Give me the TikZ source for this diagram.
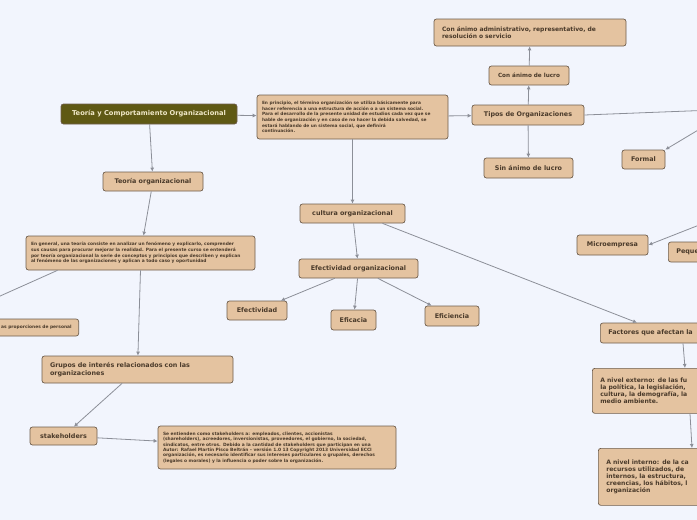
\documentclass[tikz,border=0pt]{standalone}
\usepackage{fontspec}
\setmainfont{DejaVu Sans}
\usetikzlibrary{arrows.meta,positioning}
\definecolor{paper}{HTML}{F2F5FD}
\definecolor{nodefill}{HTML}{E4C3A0}
\definecolor{nodeline}{HTML}{6E5D4C}
\definecolor{nodetext}{HTML}{4A3A2A}
\definecolor{rootfill}{HTML}{5F5914}
\definecolor{roottext}{HTML}{F0E8C8}
\definecolor{linegray}{HTML}{8C8F98}
\tikzset{
  topic/.style={draw=nodeline,fill=nodefill,rounded corners=2.5pt,line width=0.7pt,
    text=nodetext,inner sep=0pt,align=center,font=\fontsize{6.4}{7.6}\selectfont\bfseries},
  small/.style={topic,font=\fontsize{5.7}{7}\selectfont\bfseries},
  note/.style={topic,align=left,inner xsep=5pt,font=\fontsize{4.4}{5.6}\selectfont\bfseries},
  wide/.style={topic,align=left,inner xsep=8pt,font=\fontsize{6.1}{7}\selectfont\bfseries},
  conn/.style={draw=linegray,line width=0.8pt,-{Latex[length=4pt,width=4pt]}},
  plain/.style={draw=linegray,line width=0.8pt},
}
\begin{document}
\begin{tikzpicture}[x=1pt,y=-1pt]
  \fill[paper] (0,0) rectangle (697,520);
  \useasboundingbox (0,0) rectangle (697,520);
  \clip (0,0) rectangle (697,520);
  % central topic
  \node[topic,fill=rootfill,text=roottext,minimum width=176pt,minimum height=20pt,font=\fontsize{6.7}{8}\selectfont\bfseries]
    (root) at (149,114) {Teoría y Comportamiento Organizacional};
  % right branch
  \node[note,text width=181pt,minimum height=44pt,font=\fontsize{4.35}{5.6}\selectfont\bfseries] (princ) at (352.5,117)
    {En principio, el término organización se utiliza básicamente para\\
     hacer referencia a una estructura de acción o a un sistema social.\\
     Para el desarrollo de la presente unidad de estudios cada vez que se\\
     hable de organización y en caso de no hacer la debida salvedad, se\\
     estará hablando de un sistema social, que definirá\\
     continuación.};
  \node[topic,minimum width=112pt,minimum height=20pt] (tipos) at (528,115) {Tipos de Organizaciones};
  \node[small,minimum width=80pt,minimum height=19pt] (conlucro) at (529,75.5) {Con ánimo de lucro};
  \node[topic,align=left,text width=176pt,inner xsep=8pt,minimum height=27pt,font=\fontsize{6}{7.4}\selectfont\bfseries]
    (admin) at (530,32.5) {Con ánimo administrativo, representativo, de\\resolución o servicio};
  \node[topic,minimum width=89pt,minimum height=20pt] (sinlucro) at (528.5,168) {Sin ánimo de lucro};
  \node[topic,minimum width=43pt,minimum height=19pt] (formal) at (643.5,159.5) {Formal};
  \node[topic,minimum width=71pt,minimum height=20pt] (micro) at (612.5,245) {Microempresa};
  \node[topic,anchor=west,align=left,text width=60pt,inner xsep=8pt,minimum height=20pt] (peque) at (668,252) {Peque};
  \coordinate (offtipos) at (740,109);
  \coordinate (offformal) at (740,105);
  \coordinate (offmicro) at (740,209);
  % cultura
  \node[topic,minimum width=105pt,minimum height=19pt] (cultura) at (352.5,213.5) {cultura organizacional};
  \node[topic,minimum width=119pt,minimum height=19pt] (efectorg) at (358.5,268.5) {Efectividad organizacional};
  \node[topic,minimum width=60pt,minimum height=19pt] (efectividad) at (257,310.5) {Efectividad};
  \node[topic,minimum width=45pt,minimum height=20pt] (eficacia) at (353.5,320) {Eficacia};
  \node[topic,minimum width=54pt,minimum height=20pt] (eficiencia) at (452,316) {Eficiencia};
  \node[topic,anchor=west,align=left,text width=110pt,inner xsep=8pt,minimum height=20pt] (factores) at (600,333) {Factores que afectan la};
  \node[wide,anchor=north west,text width=110pt,minimum height=45pt] (externo) at (592,368)
    {A nivel externo: de las fu\\la política, la legislación,\\cultura, la demografía, la\\medio ambiente.};
  \node[wide,anchor=north west,text width=110pt,minimum height=57pt] (interno) at (598,448)
    {A nivel interno: de la ca\\recursos utilizados, de\\internos, la estructura,\\creencias, los hábitos, l\\organización};
  % left branch
  \node[topic,minimum width=100pt,minimum height=19pt] (teoriaorg) at (153,181.5) {Teoría organizacional};
  \node[note,text width=219pt,minimum height=34pt] (general) at (140.5,253)
    {En general, una teoría consiste en analizar un fenómeno y explicarlo, comprender\\
     sus causas para procurar mejorar la realidad. Para el presente curso se entenderá\\
     por teoría organizacional la serie de conceptos y principios que describen y explican\\
     al fenómeno de las organizaciones y aplican a todo caso y oportunidad};
  \coordinate (offgeneral) at (-20,305);
  \node[note,anchor=east,inner xsep=7pt,minimum height=17pt] (proporciones) at (79,327.5) {as proporciones de personal};
  \node[topic,align=left,text width=175pt,inner xsep=8pt,minimum height=27pt] (grupos) at (137.5,369.5)
    {Grupos de interés relacionados con las\\organizaciones};
  \node[topic,minimum width=67pt,minimum height=18pt] (stake) at (63.5,436) {stakeholders};
  \node[note,text width=228pt,minimum height=43pt,font=\fontsize{4.4}{5.4}\selectfont\bfseries] (sedef) at (277,447.5)
    {Se entienden como stakeholders a: empleados, clientes, accionistas\\
     (shareholders), acreedores, inversionistas, proveedores, el gobierno, la sociedad,\\
     sindicatos, entre otros. Debido a la cantidad de stakeholders que participan en una\\
     Autor: Rafael Martín Pisco Beltrán – versión 1.0 13 Copyright 2013 Universidad ECCI\\
     organización, es necesario identificar sus intereses particulares o grupales, derechos\\
     (legales o morales) y la influencia o poder sobre la organización.};
  % connectors
  \draw[conn] (root) -- (princ);
  \draw[conn] (princ) -- (tipos);
  \draw[conn] (tipos) -- (conlucro);
  \draw[conn] (conlucro) -- (admin);
  \draw[conn] (tipos) -- (sinlucro);
  \draw[plain] (tipos.east) -- (offtipos);
  \draw[conn] (offformal) -- (formal.north east);
  \draw[conn] (offmicro) -- (micro.east);
  \draw[conn] (princ) -- (cultura);
  \draw[conn] (cultura) -- (efectorg);
  \draw[conn] (efectorg) -- (efectividad);
  \draw[conn] (efectorg) -- (eficacia);
  \draw[conn] (efectorg) -- (eficiencia);
  \draw[conn] ([xshift=30pt]cultura.south) -- ([xshift=37pt]factores.north west);
  \draw[conn] ([xshift=83pt]factores.south west) -- ([xshift=93pt]externo.north west);
  \draw[conn] ([xshift=98pt]externo.south west) -- ([xshift=94pt]interno.north west);
  \draw[conn] (root) -- (teoriaorg);
  \draw[conn] (teoriaorg) -- (general);
  \draw[plain] ([xshift=-83pt]general.south) -- (offgeneral);
  \draw[conn] (general.south) -- (grupos);
  \draw[conn] (grupos) -- (stake);
  \draw[conn] (stake) -- (sedef);
\end{tikzpicture}
\end{document}
